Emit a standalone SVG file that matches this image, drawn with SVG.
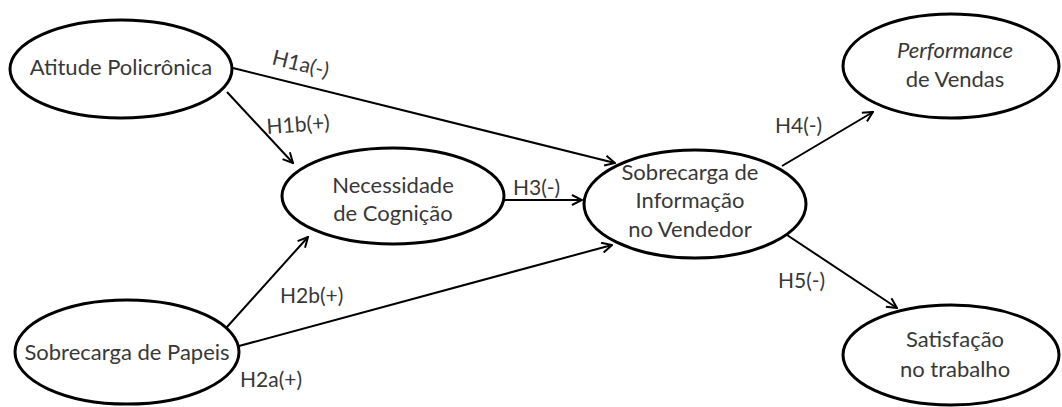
<svg xmlns="http://www.w3.org/2000/svg" width="1062" height="407" viewBox="0 0 1062 407">
<style>
.node ellipse{fill:#fff;stroke:#000;stroke-width:3}
text{font-family:Lato,"Liberation Sans",sans-serif;font-size:22px;fill:#383838;text-anchor:middle}
.lbl{font-size:21px;text-anchor:start}
.conn line{stroke:#000;stroke-width:2}
</style>
<defs>
<marker id="arr" viewBox="0 0 12 12" refX="11" refY="6" markerWidth="12" markerHeight="12" markerUnits="userSpaceOnUse" orient="auto">
<path d="M1,1 L11,6 L1,11" fill="none" stroke="#000" stroke-width="2"/>
</marker>
</defs>
<g class="conn">
<line x1="233" y1="68" x2="615" y2="163" marker-end="url(#arr)"/>
<line x1="227" y1="92" x2="293" y2="163" marker-end="url(#arr)"/>
<line x1="503" y1="200" x2="582" y2="200" marker-end="url(#arr)"/>
<line x1="227" y1="327" x2="308" y2="237" marker-end="url(#arr)"/>
<line x1="239" y1="346" x2="612" y2="245" marker-end="url(#arr)"/>
<line x1="782" y1="166" x2="873" y2="112" marker-end="url(#arr)"/>
<line x1="787" y1="235" x2="897" y2="308" marker-end="url(#arr)"/>
</g>
<g id="n1" class="node"><ellipse cx="121" cy="69" rx="111" ry="49"/><text x="121" y="75">Atitude Policrônica</text></g>
<g id="n2" class="node"><ellipse cx="393" cy="196" rx="111" ry="48"/><text x="393" y="193">Necessidade</text><text x="393" y="221">de Cognição</text></g>
<g id="n3" class="node"><ellipse cx="695" cy="204" rx="111" ry="54"/><text x="690" y="180">Sobrecarga de</text><text x="690" y="208">Informação</text><text x="690" y="237">no Vendedor</text></g>
<g id="n4" class="node"><ellipse cx="951" cy="66" rx="108" ry="52"/><text x="955" y="58" font-style="italic">Performance</text><text x="955" y="87">de Vendas</text></g>
<g id="n5" class="node"><ellipse cx="127" cy="352" rx="112" ry="52"/><text x="127" y="360">Sobrecarga de Papeis</text></g>
<g id="n6" class="node"><ellipse cx="951" cy="355" rx="108" ry="50"/><text x="955" y="347">Satisfação</text><text x="955" y="377">no trabalho</text></g>
<g id="labels">
<text class="lbl" transform="translate(271,64) rotate(14)">H1a(-)</text>
<text class="lbl" transform="translate(267,134) rotate(-4)">H1b(+)</text>
<text class="lbl" x="513" y="195">H3(-)</text>
<text class="lbl" x="280" y="303">H2b(+)</text>
<text class="lbl" x="240" y="387">H2a(+)</text>
<text class="lbl" x="775" y="133">H4(-)</text>
<text class="lbl" x="778" y="288">H5(-)</text>
</g>
</svg>
